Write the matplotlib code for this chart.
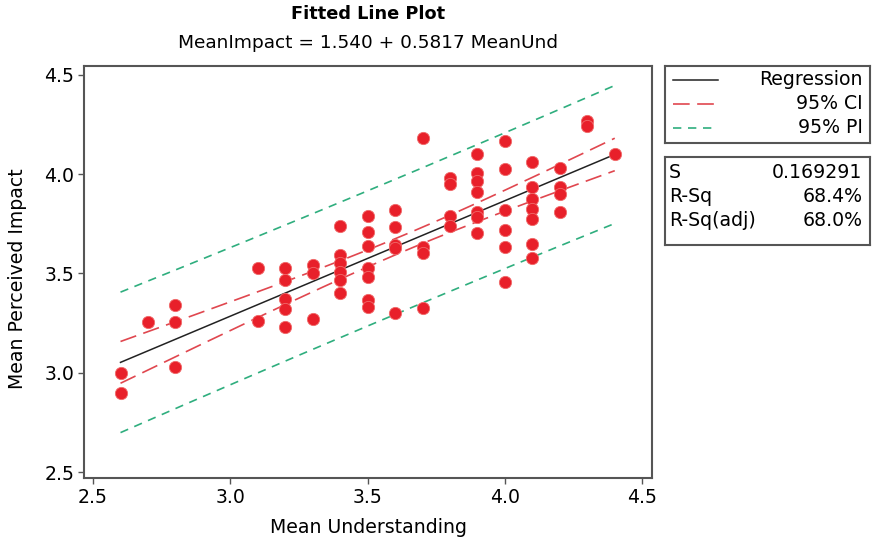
import numpy as np
import matplotlib
matplotlib.use("Agg")
import matplotlib.pyplot as plt

plt.rcParams['font.family'] = ['DejaVu Sans']

# data (x = mean understanding, y = mean perceived impact)
x_und = [2.6, 2.6,
         2.7,
         2.8, 2.8, 2.8,
         3.1, 3.1,
         3.2, 3.2, 3.2, 3.2, 3.2,
         3.3, 3.3, 3.3,
         3.4, 3.4, 3.4, 3.4, 3.4, 3.4,
         3.5, 3.5, 3.5, 3.5, 3.5, 3.5, 3.5,
         3.6, 3.6, 3.6, 3.6, 3.6,
         3.7, 3.7, 3.7, 3.7,
         3.8, 3.8, 3.8, 3.8,
         3.9, 3.9, 3.9, 3.9, 3.9, 3.9, 3.9,
         4.0, 4.0, 4.0, 4.0, 4.0, 4.0,
         4.1, 4.1, 4.1, 4.1, 4.1, 4.1, 4.1,
         4.2, 4.2, 4.2, 4.2,
         4.3, 4.3,
         4.4]
y_imp = [3.00, 2.90,
         3.255,
         3.34, 3.255, 3.03,
         3.53, 3.26,
         3.53, 3.465, 3.37, 3.32, 3.23,
         3.545, 3.50, 3.27,
         3.74, 3.595, 3.555, 3.51, 3.465, 3.40,
         3.79, 3.71, 3.64, 3.53, 3.48, 3.365, 3.33,
         3.82, 3.735, 3.645, 3.63, 3.30,
         4.18, 3.635, 3.605, 3.325,
         3.98, 3.95, 3.79, 3.74,
         4.10, 4.005, 3.965, 3.91, 3.81, 3.785, 3.705,
         4.165, 4.025, 3.82, 3.72, 3.635, 3.455,
         4.06, 3.935, 3.875, 3.825, 3.775, 3.65, 3.58,
         4.03, 3.935, 3.90, 3.81,
         4.27, 4.245,
         4.10]

intercept = 1.540
slope = 0.5817
s_value = 0.169291
stats_labels = ["S", "R-Sq", "R-Sq(adj)"]
stats_values = ["0.169291", "68.4%", "68.0%"]
legend_labels = ["Regression", "95% CI", "95% PI"]
t_crit = 1.995

x = np.array(x_und)
n = len(x)
xbar = x.mean()
sxx = ((x - xbar) ** 2).sum()
xs = np.linspace(x.min(), x.max(), 200)
fit = intercept + slope * xs
ci = t_crit * s_value * np.sqrt(1.0 / n + (xs - xbar) ** 2 / sxx)
pi = t_crit * s_value * np.sqrt(1 + 1.0 / n + (xs - xbar) ** 2 / sxx)

red = '#e8202a'
ci_col = '#e0474f'
pi_col = '#2fae7e'
frame_col = '#555555'
fs = 13.6

fig = plt.figure(figsize=(8.74, 5.45), dpi=100)
ax = fig.add_axes([0.0961, 0.1229, 0.650, 0.756])

ax.scatter(x_und, y_imp, s=78, color=red, edgecolors='#f06a6a', linewidths=0.6, zorder=3)
ax.plot(xs, fit, color='#222222', lw=1.1, zorder=2)
ax.plot(xs, fit + ci, color=ci_col, lw=1.2, dashes=(10, 4.5), zorder=2)
ax.plot(xs, fit - ci, color=ci_col, lw=1.2, dashes=(10, 4.5), zorder=2)
ax.plot(xs, fit + pi, color=pi_col, lw=1.2, dashes=(5, 4), zorder=2)
ax.plot(xs, fit - pi, color=pi_col, lw=1.2, dashes=(5, 4), zorder=2)

ax.set_xlim(2.467, 4.536)
ax.set_ylim(2.47, 4.545)
ax.set_xticks([2.5, 3.0, 3.5, 4.0, 4.5])
ax.set_yticks([2.5, 3.0, 3.5, 4.0, 4.5])
ax.tick_params(direction='out', length=4, width=1, color=frame_col, labelsize=fs, pad=3)
for sp in ax.spines.values():
    sp.set_color(frame_col)
    sp.set_linewidth(1.5)
ax.set_xlabel('Mean Understanding', fontsize=fs, labelpad=8)
ax.set_ylabel('Mean Perceived Impact', fontsize=fs)
ax.yaxis.set_label_coords(-0.1, 0.485)

fig.text(0.421, 0.974, 'Fitted Line Plot', ha='center', va='center', fontsize=12.8, fontweight='bold')
fig.text(0.421, 0.922, 'MeanImpact = 1.540 + 0.5817 MeanUnd', ha='center', va='center', fontsize=13.3)

# legend box
lg = fig.add_axes([0.761, 0.7376, 0.234, 0.141])
lg.set_xlim(0, 1)
lg.set_ylim(0, 1)
lg.set_xticks([])
lg.set_yticks([])
for sp in lg.spines.values():
    sp.set_color(frame_col)
    sp.set_linewidth(1.5)
styles = [dict(color='#222222', lw=1.1),
          dict(color=ci_col, lw=1.2, dashes=(10, 4.5)),
          dict(color=pi_col, lw=1.2, dashes=(5, 4))]
rows = [0.82, 0.51, 0.20]
for lab, st, yy in zip(legend_labels, styles, rows):
    lg.plot([0.04, 0.26], [yy, yy], **st)
    lg.text(0.965, yy, lab, ha='right', va='center', fontsize=fs)

# stats box
sb = fig.add_axes([0.761, 0.5505, 0.234, 0.1615])
sb.set_xlim(0, 1)
sb.set_ylim(0, 1)
sb.set_xticks([])
sb.set_yticks([])
for sp in sb.spines.values():
    sp.set_color(frame_col)
    sp.set_linewidth(1.5)
for lab, val, yy in zip(stats_labels, stats_values, [0.82, 0.55, 0.28]):
    sb.text(0.02, yy, lab, ha='left', va='center', fontsize=fs)
    sb.text(0.965, yy, val, ha='right', va='center', fontsize=fs)

fig.savefig('out.png', dpi=100)
